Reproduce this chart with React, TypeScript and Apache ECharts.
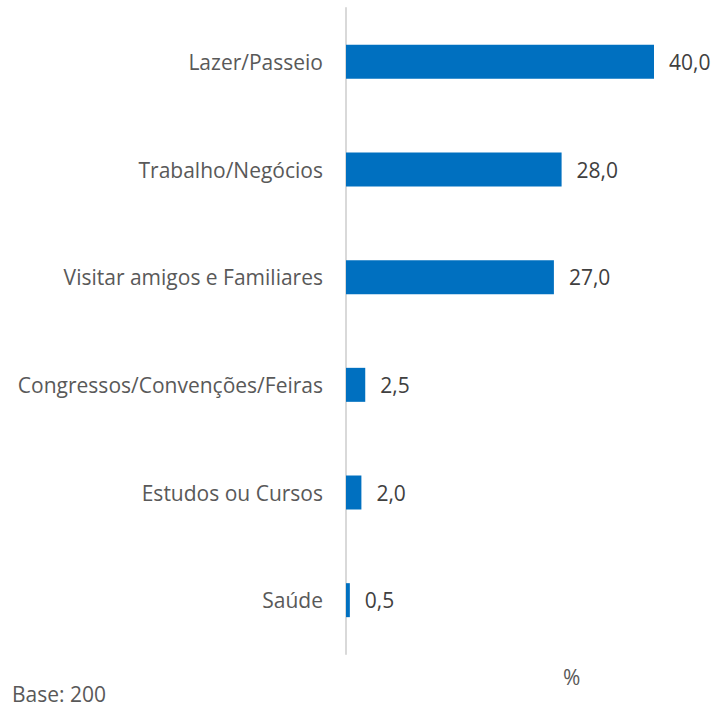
import React, { useEffect, useRef } from "react";
import * as echarts from "echarts";

const categories = [
  "Lazer/Passeio",
  "Trabalho/Negócios",
  "Visitar amigos e Familiares",
  "Congressos/Convenções/Feiras",
  "Estudos ou Cursos",
  "Saúde",
];
const values = [40.0, 28.0, 27.0, 2.5, 2.0, 0.5];
const unitLabel = "%";
const baseNote = "Base: 200";

export default function App() {
  const ref = useRef<HTMLDivElement>(null);
  useEffect(() => {
    if (!ref.current) return;
    const chart = echarts.init(ref.current, null, { renderer: "svg" });
    const font = "'Open Sans', 'Noto Sans', sans-serif";
    chart.setOption({
      animation: false,
      textStyle: { fontFamily: font },
      grid: { left: 346, top: 8, width: 346.5, height: 646 },
      xAxis: {
        type: "value",
        min: 0,
        max: 45,
        show: false,
      },
      yAxis: {
        type: "category",
        data: categories.slice().reverse(),
        axisLine: { show: true, lineStyle: { color: "#D9D9D9", width: 2 } },
        axisTick: { show: false },
        axisLabel: { color: "#595959", fontSize: 21, margin: 23, fontFamily: font },
      },
      series: [
        {
          type: "bar",
          data: values.slice().reverse(),
          barWidth: 34,
          itemStyle: { color: "#0070C0" },
          label: {
            show: true,
            position: "right",
            distance: 15,
            color: "#404040",
            fontSize: 21,
            fontFamily: font,
            formatter: (p: any) => Number(p.value).toFixed(1).replace(".", ","),
          },
        },
      ],
      graphic: [
        {
          type: "text",
          x: 563,
          y: 677,
          style: {
            text: unitLabel,
            fill: "#595959",
            font: `21px ${font}`,
            verticalAlign: "middle",
          },
        },
        {
          type: "text",
          x: 12,
          y: 694,
          style: {
            text: baseNote,
            fill: "#595959",
            font: `21px ${font}`,
            verticalAlign: "middle",
          },
        },
      ],
    });
    return () => chart.dispose();
  }, []);
  return (
    <div
      ref={ref}
      style={{ position: "absolute", left: 0, top: 0, width: 718, height: 708 }}
    />
  );
}
